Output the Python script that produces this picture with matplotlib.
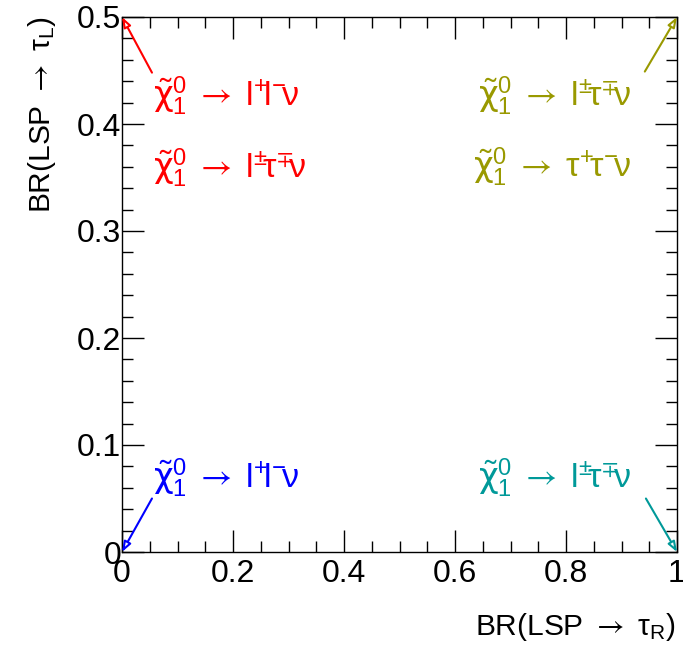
import matplotlib
matplotlib.use("Agg")
import matplotlib.pyplot as plt
from matplotlib.ticker import MultipleLocator

plt.rcParams['font.family'] = ['Liberation Sans', 'DejaVu Sans']
plt.rcParams['mathtext.fontset'] = 'custom'
plt.rcParams['mathtext.rm'] = 'Liberation Sans'
plt.rcParams['mathtext.it'] = 'Liberation Sans'
plt.rcParams['mathtext.bf'] = 'Liberation Sans:bold'
plt.rcParams['mathtext.sf'] = 'DejaVu Sans'
plt.rcParams['mathtext.cal'] = 'STIXGeneral'
plt.rcParams['mathtext.default'] = 'regular'

# Data
x_range = [0.0, 1.0]
y_range = [0.0, 0.5]
x_ticks = [0.0, 0.2, 0.4, 0.6, 0.8, 1.0]
x_ticklabels = ['0', '0.2', '0.4', '0.6', '0.8', '1']
y_ticks = [0.0, 0.1, 0.2, 0.3, 0.4, 0.5]
y_ticklabels = ['0', '0.1', '0.2', '0.3', '0.4', '0.5']
CHI = r'\tilde{\mathsf{\chi}}_1^0'
ARW = r'\;\mathcal{\rightarrow}\;'
labels = [
    r'$' + CHI + ARW + r'l^{+}\!l^{-}\!\nu$',
    r'$' + CHI + ARW + r'l^{\pm}\!\tau^{\mp}\!\nu$',
    r'$' + CHI + ARW + r'l^{\pm}\!\tau^{\mp}\!\nu$',
    r'$' + CHI + ARW + r'\tau^{+}\!\tau^{-}\!\nu$',
    r'$' + CHI + ARW + r'l^{+}\!l^{-}\!\nu$',
    r'$' + CHI + ARW + r'l^{\pm}\!\tau^{\mp}\!\nu$',
]
text_x = [0.056, 0.056, 0.641, 0.632, 0.056, 0.641]
text_y = [0.417, 0.3495, 0.417, 0.350, 0.0598, 0.0598]
text_colors = ['#ff0000', '#ff0000', '#999900', '#999900', '#0000ff', '#009999']

arrow_tail_x = [0.054, 0.942, 0.054, 0.944]
arrow_tail_y = [0.448, 0.449, 0.050, 0.050]
arrow_head_x = [0.0, 1.0, 0.0, 1.0]
arrow_head_y = [0.5, 0.5, 0.0, 0.0]
arrow_colors = ['#ff0000', '#999900', '#0000ff', '#009999']

fig = plt.figure(figsize=(6.83, 6.47), dpi=100)
ax = fig.add_axes([122/683, 1-552/647, 555/683, 535/647])
ax.set_xlim(*x_range)
ax.set_ylim(*y_range)

ax.set_xticks(x_ticks)
ax.set_xticklabels(x_ticklabels)
ax.set_yticks(y_ticks)
ax.set_yticklabels(y_ticklabels)
ax.xaxis.set_minor_locator(MultipleLocator(0.05))
ax.yaxis.set_minor_locator(MultipleLocator(0.02))
ax.tick_params(which='both', direction='in', top=True, right=True, width=1, labelsize=23)
ax.tick_params(which='major', length=16)
ax.tick_params(axis='x', which='major', pad=5)
ax.tick_params(axis='y', which='major', pad=0.5)
ax.tick_params(which='minor', length=8)
for s in ax.spines.values():
    s.set_linewidth(1)

for t, x, y, c in zip(labels, text_x, text_y, text_colors):
    ax.text(x, y, t, color=c, fontsize=24.5, ha='left', va='baseline')

for tx, ty, hx, hy, c in zip(arrow_tail_x, arrow_tail_y, arrow_head_x, arrow_head_y, arrow_colors):
    ax.annotate('', xy=(hx, hy), xytext=(tx, ty),
                arrowprops=dict(arrowstyle='-|>,head_length=0.6,head_width=0.22',
                                fc='white', ec=c, lw=1.5, shrinkA=0, shrinkB=0),
                annotation_clip=False)

fig.text(675/683, 1-627/647, r'BR(LSP $\mathcal{\rightarrow}$ $\tau_R$)', fontsize=21.5, ha='right', va='center')
fig.text(42/683, 1-16/647, r'BR(LSP $\mathcal{\rightarrow}$ $\tau_L$)', fontsize=21.5, ha='center', va='top', rotation=90)

fig.savefig('out.png', dpi=100)
